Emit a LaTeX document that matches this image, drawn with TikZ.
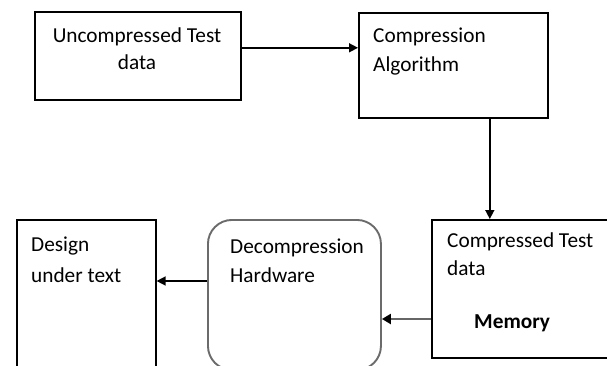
\documentclass[tikz,border=0pt]{standalone}
\usepackage{fontspec}
\setmainfont{Carlito}
\usetikzlibrary{arrows.meta}
\begin{document}
\begin{tikzpicture}[x=1pt,y=-1pt,
  box/.style={draw=black,line width=1.6pt,anchor=north west,inner sep=0pt},
  rbox/.style={draw=black!58,line width=1.9pt,rounded corners=24pt,anchor=north west,inner sep=0pt},
  lbl/.style={anchor=base west,inner sep=0pt,font=\fontsize{21.3}{24}\selectfont},
  arr/.style={line width=1.5pt,-{Triangle[length=9pt,width=9pt]}},
  garr/.style={draw=black!60,line width=2.4pt,-{Triangle[length=9pt,width=10pt,fill=black,color=black]}}]
\path[use as bounding box,clip] (0,0) rectangle (607,366);

% blocks
\node[box,minimum width=206pt,minimum height=88pt] (src) at (34,11) {};
\node[box,minimum width=189pt,minimum height=105pt] (alg) at (358,12) {};
\node[box,minimum width=200pt,minimum height=138pt] (mem) at (431,219) {};
\node[rbox,minimum width=173pt,minimum height=150pt] (dec) at (207,219) {};
\node[box,minimum width=139pt,minimum height=170pt] (dut) at (16,219) {};

% labels
\node[lbl,anchor=base] (t1a) at (137,43) {Uncompressed Test};
\node[lbl,anchor=base] (t1b) at (137,70) {data};
\node[lbl] (t2a) at (373,43) {Compression};
\node[lbl] (t2b) at (373,72) {Algorithm};
\node[lbl] (t3a) at (447,247) {Compressed Test};
\node[lbl] (t3b) at (447,275) {data};
\node[lbl,font=\fontsize{21.3}{24}\selectfont\bfseries] (t3c) at (474,328) {Memory};
\node[lbl] (t4a) at (230,253) {Decompression};
\node[lbl] (t4b) at (230,282) {Hardware};
\node[lbl] (t5a) at (31,251) {Design};
\node[lbl] (t5b) at (31,282) {under text};

% connectors
\coordinate (c1) at ([yshift=8pt]src.east);
\draw[arr] (c1) -- (c1 -| alg.west);
\coordinate (c2) at ([xshift=36.5pt]alg.south);
\draw[arr] (c2) -- (c2 |- mem.north);
\coordinate (c3) at (mem.west |- 0,319);
\draw[garr] (c3) -- (c3 -| dec.east);
\coordinate (c4) at (dec.west |- 0,281);
\draw[arr] (c4) -- (c4 -| dut.east);
\end{tikzpicture}
\end{document}
